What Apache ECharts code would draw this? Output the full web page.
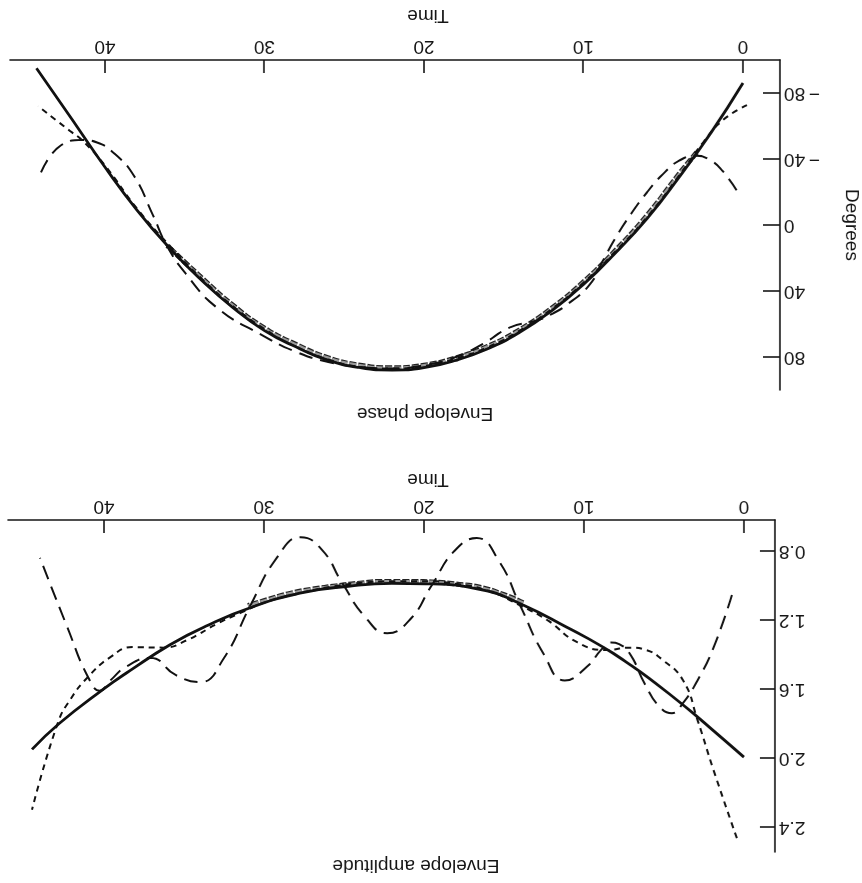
<!DOCTYPE html>
<html>
<head>
<meta charset="utf-8">
<script src="https://cdn.jsdelivr.net/npm/echarts@6/dist/echarts.min.js"></script>
<style>
  html, body { margin: 0; padding: 0; background: #ffffff; }
  /* the figure is printed upside down, so the whole canvas is turned half a revolution */
  #chart { width: 862px; height: 883px; transform: rotate(180deg); }
</style>
</head>
<body>
<div id="chart"></div>
<script>
// ---- tick labels ----
const timeTicks = [0, 10, 20, 30, 40];
const phaseTicks = [-80, -40, 0, 40, 80];
const ampTicks = [0.8, 1.2, 1.6, 2.0, 2.4];

// ---- envelope amplitude ----
const ampFitTime = [0, 1.8, 3.7, 5.9, 7.1, 8.8, 11.1, 13.8, 16.3, 19.9, 22, 24.6, 27.75, 30.9, 33.5, 35.9, 38.4, 40.1, 42.8, 44.5];
const ampFit     = [1.995, 1.85, 1.70, 1.54, 1.46, 1.357, 1.24, 1.113, 1.026, 0.99, 0.988, 1.003, 1.044, 1.13, 1.23, 1.345, 1.495, 1.605, 1.80, 1.95];

const ampLongTime = [0.75, 1.9, 2.9, 3.8, 4.5, 5.3, 6.2, 7.1, 7.8, 8.3, 8.9, 9.8, 11.2, 12.5, 14, 15.3, 16.7, 18.1, 19.5, 20.9, 22.3, 23.7, 25.1, 26.4, 27.7, 29.2, 30.9, 32.5, 34, 35.5, 37.1, 38.6, 39.6, 40.25, 41, 42.3, 44];
const ampLong     = [1.055, 1.36, 1.55, 1.68, 1.74, 1.70, 1.57, 1.40, 1.34, 1.33, 1.37, 1.47, 1.55, 1.40, 1.113, 0.86, 0.725, 0.80, 0.997, 1.20, 1.276, 1.18, 0.986, 0.79, 0.72, 0.84, 1.125, 1.42, 1.56, 1.52, 1.42, 1.47, 1.55, 1.61, 1.53, 1.24, 0.84];

const ampShortTime = [0.44, 1.9, 2.9, 3.8, 5.1, 6.1, 7.1, 8.6, 10.4, 12.3, 14, 16, 18, 20, 22, 24, 26, 28, 30, 31.5, 32.9, 34.8, 36.3, 38.2, 39.6, 41, 42.1, 42.9, 44.5];
const ampShort     = [2.465, 2.07, 1.78, 1.55, 1.43, 1.374, 1.36, 1.374, 1.33, 1.20, 1.115, 1.03, 0.99, 0.975, 0.975, 0.985, 1.01, 1.05, 1.10, 1.16, 1.22, 1.316, 1.36, 1.357, 1.415, 1.53, 1.66, 1.80, 2.30];

const ampDataTime = [13.8, 15, 16.5, 18, 19.5, 21, 22.5, 24, 25.5, 27, 28.5, 30, 31];
const ampData     = [1.10, 1.053, 1.01, 0.991, 0.979, 0.976, 0.976, 0.986, 1.002, 1.021, 1.048, 1.088, 1.116];

// ---- envelope phase (degrees) ----
const phaseFitTime = [0, 2, 4, 6, 8, 10, 12, 14, 16, 18, 20, 22, 24, 26, 28, 30, 32, 34, 36, 38, 40, 42, 44.3];
const phaseFit     = [-86, -56, -29, -4, 17, 36, 52, 65, 75, 82, 86.5, 88, 86.5, 82, 74, 64, 50, 33, 13.5, -9, -35, -63, -95];

const phaseLongTime = [0.4, 1.3, 2.0, 2.9, 4.0, 5.0, 6.0, 7.0, 8.0, 8.8, 9.6, 11, 12, 13, 14.6, 16.3, 18, 20, 22, 24, 26, 28, 30.3, 33, 34.9, 36.1, 37, 38.2, 39.5, 40.5, 41.4, 42.8, 44.1];
const phaseLong     = [-21, -33, -39, -42, -39, -31, -20, -7, 8, 22, 36, 48, 54, 58, 62, 72, 80, 85, 87, 86, 83, 77, 66, 50, 30, 13, -6, -30, -44, -50, -51.5, -48, -30];

const phaseShortTime = [-0.25, 1.25, 2.5, 4, 6, 8, 10, 12, 14, 16, 18, 20, 22, 24, 26, 28, 30, 32, 34, 36, 38, 40, 41.4, 42.2, 44.2];
const phaseShort     = [-72.7, -63.6, -50, -30, -5, 16, 35, 51, 64, 74, 81, 85.5, 87, 86, 81.5, 74, 63, 49, 32, 12, -10, -36, -51, -57, -72];

const phaseDataTime = [2.9, 4, 6, 8, 10, 12, 14, 16, 18, 20, 22, 24, 26, 28, 30, 32, 34, 36.1];
const phaseData     = [-44, -31, -6, 15.5, 34.5, 50.5, 63.5, 73.5, 80.5, 85, 86.5, 85, 80.5, 72.5, 62.5, 48.5, 31.5, 12.5];

const zip = (ts, vs) => ts.map((t, i) => [t, vs[i]]);

const INK = '#151515';
const FONT = "'Liberation Sans', Arial, Helvetica, sans-serif";
const FS = 19;

function xAxisFor(grid, min, max) {
  return {
    type: 'value', gridIndex: grid, min: min, max: max,
    axisLine: { show: true, onZero: false, lineStyle: { color: INK, width: 1.6 } },
    axisTick: { show: true, inside: true, length: 13, customValues: timeTicks, lineStyle: { color: INK, width: 1.6 } },
    axisLabel: { show: true, customValues: timeTicks, margin: 4, color: INK, fontSize: FS, fontFamily: FONT },
    splitLine: { show: false }
  };
}

function yAxisFor(grid, min, max, ticks, tickLen, fmt) {
  return {
    type: 'value', gridIndex: grid, min: min, max: max,
    axisLine: { show: true, onZero: false, lineStyle: { color: INK, width: 1.6 } },
    axisTick: { show: true, inside: true, length: tickLen, customValues: ticks, lineStyle: { color: INK, width: 1.6 } },
    axisLabel: { show: true, customValues: ticks, margin: 4, color: INK, fontSize: FS, fontFamily: FONT, formatter: fmt },
    splitLine: { show: false }
  };
}

function curve(name, xi, ts, vs, style) {
  return {
    name: name, type: 'line', xAxisIndex: xi, yAxisIndex: xi,
    data: zip(ts, vs), smooth: 0.5, showSymbol: false, symbol: 'none',
    lineStyle: { color: style.color, width: style.width, type: style.type, cap: 'butt' },
    silent: true, animation: false, z: style.z
  };
}

const fitStyle   = { color: '#111', width: 2.8, type: 'solid', z: 5 };
const longStyle  = { color: '#111', width: 2, type: [14, 8], z: 4 };
const shortStyle = { color: '#111', width: 2, type: [6, 5], z: 4 };
// measured points: hollow grey dashes with dark rims
const dataRim    = { color: '#222', width: 5, type: [7, 2], z: 2 };
const dataFill   = { color: '#9a9a9a', width: 2.6, type: [7, 2], z: 3 };

function label(text, x, y, rot) {
  return {
    type: 'text', x: x, y: y, rotation: rot || 0, silent: true,
    style: { text: text, fill: INK, font: FS + 'px ' + FONT, align: 'center', verticalAlign: 'middle' }
  };
}

const chart = echarts.init(document.getElementById('chart'), null, { renderer: 'canvas' });
chart.setOption({
  animation: false,
  backgroundColor: '#ffffff',
  grid: [
    { left: 87, right: 8, top: 31, bottom: 520 },
    { left: 82, right: 10, top: 493, bottom: 60 }
  ],
  xAxis: [
    xAxisFor(0, -1.94, 46),
    xAxisFor(1, -2.32, 45.96)
  ],
  yAxis: [
    yAxisFor(0, 0.62, 2.545, ampTicks, 15, v => v.toFixed(1)),
    yAxisFor(1, -100, 100, phaseTicks, 17, v => v < 0 ? '\u2212\u2009' + Math.abs(v) : String(v))
  ],
  graphic: [
    label('Envelope amplitude', 446, 18),
    label('Time', 434, 404),
    label('Envelope phase', 437, 470),
    label('Time', 434, 868),
    label('Degrees', 11, 658, Math.PI / 2)
  ],
  series: [
    curve('amp data rim', 0, ampDataTime, ampData, dataRim),
    curve('amp data', 0, ampDataTime, ampData, dataFill),
    curve('amp long', 0, ampLongTime, ampLong, longStyle),
    curve('amp short', 0, ampShortTime, ampShort, shortStyle),
    curve('amp fit', 0, ampFitTime, ampFit, fitStyle),
    curve('phase data rim', 1, phaseDataTime, phaseData, dataRim),
    curve('phase data', 1, phaseDataTime, phaseData, dataFill),
    curve('phase long', 1, phaseLongTime, phaseLong, longStyle),
    curve('phase short', 1, phaseShortTime, phaseShort, shortStyle),
    curve('phase fit', 1, phaseFitTime, phaseFit, fitStyle)
  ]
});
</script>
</body>
</html>
